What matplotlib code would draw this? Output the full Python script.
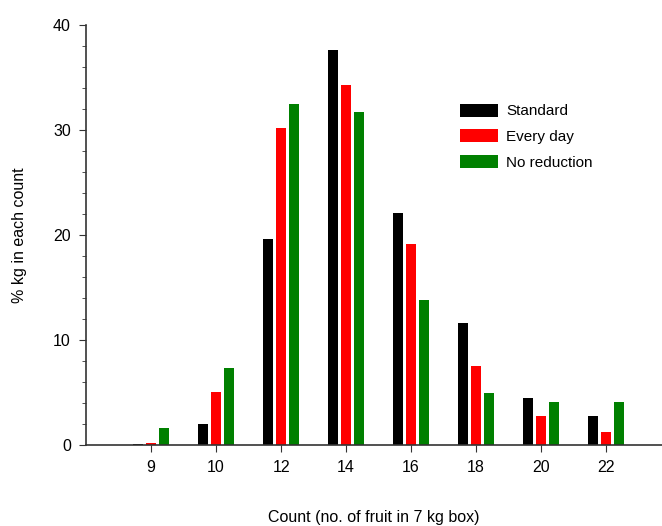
import matplotlib
matplotlib.use('Agg')
import matplotlib.pyplot as plt
import numpy as np
from matplotlib.ticker import MultipleLocator

plt.rcParams['font.family'] = ['Liberation Sans', 'DejaVu Sans']

counts = ['9', '10', '12', '14', '16', '18', '20', '22']
standard = [0.1, 2.0, 19.6, 37.6, 22.1, 11.6, 4.5, 2.8]
every_day = [0.15, 5.0, 30.2, 34.3, 19.1, 7.5, 2.75, 1.2]
no_reduction = [1.6, 7.3, 32.5, 31.7, 13.8, 4.95, 4.1, 4.1]

series = [('Standard', standard, 'black'),
          ('Every day', every_day, '#ff0000'),
          ('No reduction', no_reduction, '#008000')]

fig = plt.figure(figsize=(6.62, 5.26), dpi=100)
ax = fig.add_axes([0.13, 0.154, 0.87, 0.7985])

x = np.arange(len(counts))
w = 0.155
step = 0.205
for i, (name, vals, col) in enumerate(series):
  ax.bar(x + (i - 1) * step, vals, width=w, color=col, label=name)

ax.set_xlim(-1, 7.86)
ax.set_ylim(0, 40)
ax.set_xticks(x)
ax.set_xticklabels(counts)
ax.yaxis.set_major_locator(MultipleLocator(10))
ax.yaxis.set_minor_locator(MultipleLocator(2))

for s in ['top', 'right']:
  ax.spines[s].set_visible(False)
for s in ['left', 'bottom']:
  ax.spines[s].set_color('#333333')
  ax.spines[s].set_linewidth(1.2)
ax.tick_params(axis='both', which='major', length=5, color='#333333', labelsize=11.5, pad=6)
ax.tick_params(axis='y', which='minor', length=3, color='#333333')

ax.set_ylabel('% kg in each count', fontsize=11.5, labelpad=19)
ax.set_xlabel('Count (no. of fruit in 7 kg box)', fontsize=11.5, labelpad=25)

ax.legend(loc='upper left', bbox_to_anchor=(0.625, 0.845), frameon=False,
          fontsize=11, handlelength=2.5, handleheight=0.9, labelspacing=0.72,
          handletextpad=0.55)

fig.savefig('out.png', dpi=100)
